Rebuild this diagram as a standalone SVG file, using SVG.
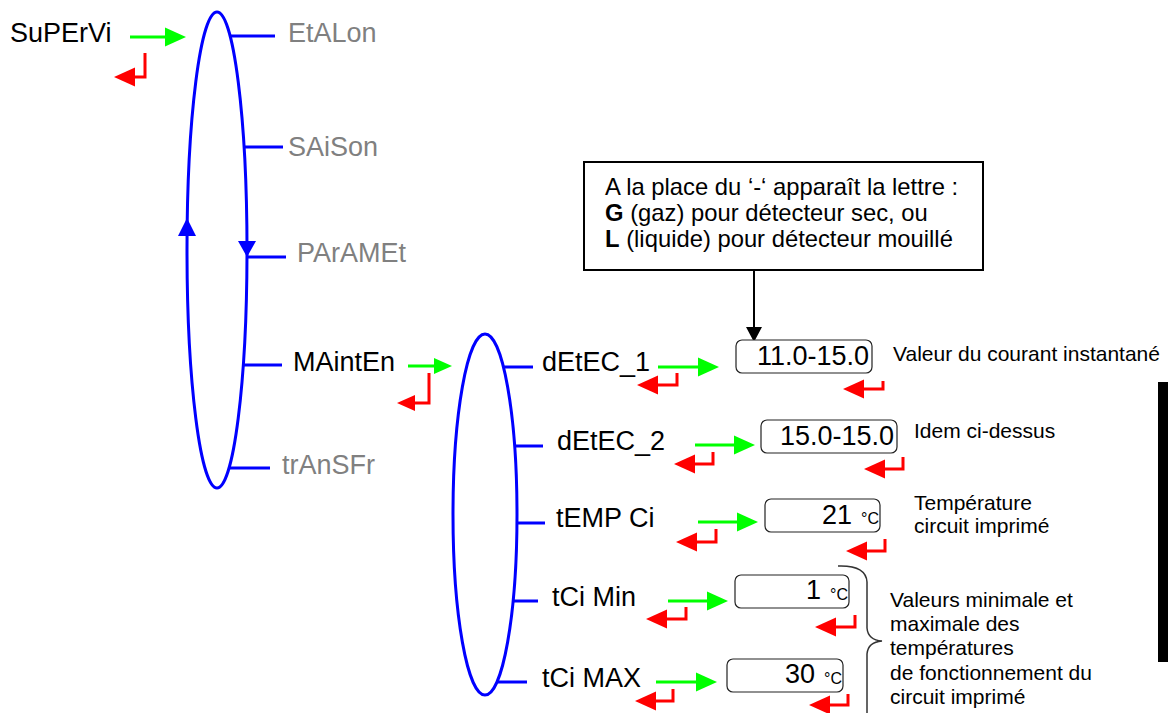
<svg xmlns="http://www.w3.org/2000/svg" width="1168" height="713" viewBox="0 0 1168 713">
<style>
text{font-family:"Liberation Sans",Arial,sans-serif;}
.lbl{font-size:27px;fill:#000;}
.gry{font-size:27px;fill:#808080;}
.val{font-size:27px;fill:#000;text-anchor:end;}
.deg{font-size:16px;fill:#000;}
.note{font-size:21px;fill:#000;}
.call{font-size:23.8px;fill:#000;}
.ell{fill:none;stroke:#0000FF;stroke-width:3;}
.br{stroke:#0000FF;stroke-width:3;fill:none;}
.go{stroke:#00FF00;stroke-width:3;fill:none;marker-end:url(#gh);}
.gos{stroke:#00FF00;stroke-width:3;fill:none;marker-end:url(#ghs);}
.back{stroke:#FF0000;stroke-width:3;fill:none;marker-end:url(#rh);}
.backs{stroke:#FF0000;stroke-width:3;fill:none;marker-end:url(#rhs);}
.box{fill:#fff;stroke:#222;stroke-width:1.2;}
</style>
<defs>
<marker id="gh" markerUnits="userSpaceOnUse" markerWidth="21" markerHeight="20" refX="8" refY="10" orient="auto"><path d="M0,0.5 L21,10 L0,19.5 z" fill="#00FF00"/></marker>
<marker id="ghs" markerUnits="userSpaceOnUse" markerWidth="18" markerHeight="17" refX="7" refY="8.5" orient="auto"><path d="M0,0.5 L18,8.5 L0,16.5 z" fill="#00FF00"/></marker>
<marker id="rh" markerUnits="userSpaceOnUse" markerWidth="21" markerHeight="20" refX="8" refY="10" orient="auto"><path d="M0,0.5 L21,10 L0,19.5 z" fill="#FF0000"/></marker>
<marker id="rhs" markerUnits="userSpaceOnUse" markerWidth="18" markerHeight="17" refX="7" refY="8.5" orient="auto"><path d="M0,0.5 L18,8.5 L0,16.5 z" fill="#FF0000"/></marker>
</defs>

<g id="menu1">
<ellipse class="ell" cx="217" cy="250" rx="30" ry="238"/>
<path d="M187,218 L178,236 L196,236 z" fill="#0000FF"/>
<path d="M247,257 L238,241 L256,241 z" fill="#0000FF"/>
</g>
<g id="menu2">
<ellipse class="ell" cx="485" cy="514.5" rx="32" ry="180.5"/>
</g>

<g id="connectors">
<line class="br" x1="231" y1="36" x2="275" y2="36"/>
<line class="br" x1="244" y1="147" x2="283" y2="147"/>
<line class="br" x1="247" y1="257" x2="286" y2="257"/>
<line class="br" x1="243" y1="365" x2="282" y2="365"/>
<line class="br" x1="229" y1="468" x2="270" y2="468"/>
<line class="br" x1="503" y1="367" x2="533" y2="367"/>
<line class="br" x1="515" y1="446" x2="543" y2="446"/>
<line class="br" x1="517" y1="523" x2="545" y2="523"/>
<line class="br" x1="513" y1="601" x2="538" y2="601"/>
<line class="br" x1="498" y1="682" x2="527" y2="682"/>

<line class="go" x1="130" y1="37" x2="173" y2="37"/>
<path class="back" d="M145,53 V77 H127"/>
<line class="gos" x1="408" y1="366" x2="441" y2="366"/>
<path class="backs" d="M429,373 V403 H408"/>

<line class="go" x1="658" y1="367" x2="706" y2="367"/>
<path class="back" d="M677,373 V385 H650"/>
<path class="back" d="M883,381 V389 H856"/>

<line class="go" x1="695" y1="445" x2="742" y2="445"/>
<path class="back" d="M713,452 V464 H687"/>
<path class="back" d="M903,457 V469 H877"/>

<line class="go" x1="698" y1="522" x2="745" y2="522"/>
<path class="back" d="M716,529 V542 H689"/>
<path class="back" d="M885,539 V551 H859"/>

<line class="go" x1="668" y1="601" x2="715" y2="601"/>
<path class="back" d="M686,607 V619 H659"/>
<path class="back" d="M855,615 V627 H828"/>

<line class="go" x1="656" y1="682" x2="704" y2="682"/>
<path class="back" d="M673,689 V701 H648"/>
<path class="back" d="M848,694 V705 H822"/>

<line x1="754" y1="270" x2="754" y2="330" stroke="#000" stroke-width="2"/>
<path d="M754,342 L746,327 L762,327 z" fill="#000"/>
<path d="M838,566 Q866,565 867,582 L867,628 Q868,640 882,641 Q868,642 867,654 L867,713" fill="none" stroke="#333" stroke-width="1.5"/>
</g>

<g id="n-supervi"><text class="lbl" x="10" y="42">SuPErVi</text></g>
<g id="n-etalon"><text class="gry" x="288" y="42">EtALon</text></g>
<g id="n-saison"><text class="gry" x="288" y="156">SAiSon</text></g>
<g id="n-paramet"><text class="gry" x="297" y="262">PArAMEt</text></g>
<g id="n-mainten"><text class="lbl" x="293" y="371">MAintEn</text></g>
<g id="n-transfr"><text class="gry" x="282" y="474">trAnSFr</text></g>

<g id="n-detec1"><text class="lbl" x="542" y="371">dEtEC_1</text></g>
<g id="n-detec2"><text class="lbl" x="557" y="450">dEtEC_2</text></g>
<g id="n-tempci"><text class="lbl" x="556" y="527">tEMP Ci</text></g>
<g id="n-tcimin"><text class="lbl" x="552" y="606">tCi Min</text></g>
<g id="n-tcimax"><text class="lbl" x="542" y="687">tCi MAX</text></g>

<g id="v-detec1"><rect class="box" x="736" y="340" width="136" height="33" rx="6"/><text class="val" x="869" y="365">11.0-15.0</text></g>
<g id="v-detec2"><rect class="box" x="761" y="420" width="136" height="33" rx="6"/><text class="val" x="894" y="445">15.0-15.0</text></g>
<g id="v-tempci"><rect class="box" x="765" y="499" width="115" height="33" rx="6"/><text class="val" x="852" y="524">21</text><text class="deg" x="861" y="524">°C</text></g>
<g id="v-tcimin"><rect class="box" x="735" y="575" width="114" height="33" rx="6"/><text class="val" x="821" y="599">1</text><text class="deg" x="830" y="600">°C</text></g>
<g id="v-tcimax"><rect class="box" x="727" y="659" width="116" height="33" rx="6"/><text class="val" x="815" y="683">30</text><text class="deg" x="824" y="684">°C</text></g>

<g id="notes">
<text class="note" x="893" y="361">Valeur du courant instantané</text>
<text class="note" x="914" y="438">Idem ci-dessus</text>
<text class="note" x="914" y="510">Température</text>
<text class="note" x="914" y="533">circuit imprimé</text>
<text class="note" x="890" y="607">Valeurs minimale et</text>
<text class="note" x="890" y="631">maximale des</text>
<text class="note" x="890" y="655">températures</text>
<text class="note" x="890" y="680">de fonctionnement du</text>
<text class="note" x="890" y="704">circuit imprimé</text>
</g>

<g id="callout">
<rect x="584" y="162" width="399" height="108" fill="#fff" stroke="#000" stroke-width="2"/>
<text class="call" x="605" y="195">A la place du ‘-‘ apparaît la lettre :</text>
<text class="call" x="605" y="221"><tspan font-weight="bold">G</tspan> (gaz) pour détecteur sec, ou</text>
<text class="call" x="605" y="247"><tspan font-weight="bold">L</tspan> (liquide) pour détecteur mouillé</text>
</g>

<rect id="bar" x="1158" y="382" width="10" height="280" fill="#000"/>
</svg>
